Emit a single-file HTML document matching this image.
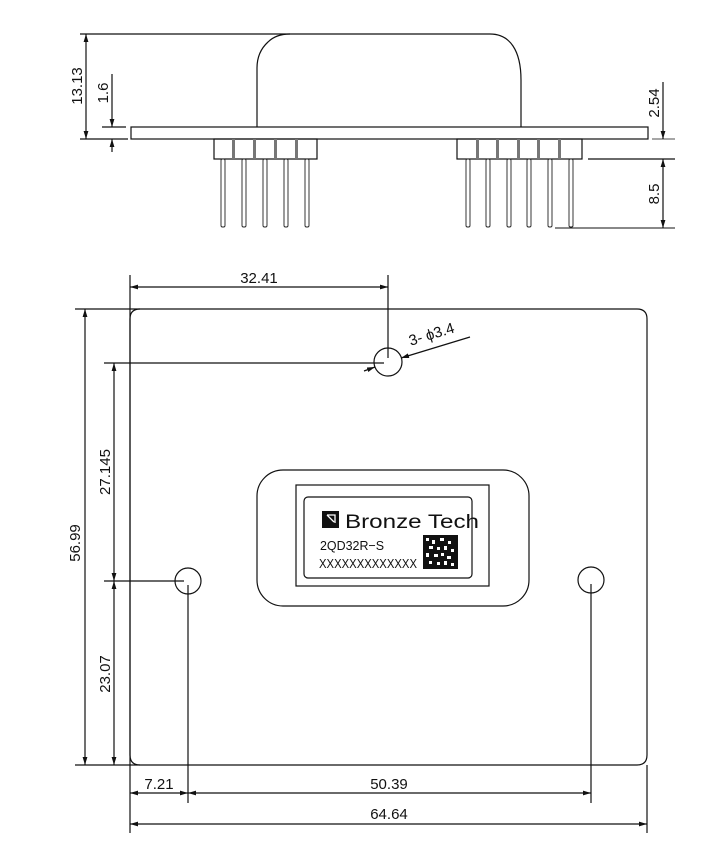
<!DOCTYPE html>
<html><head><meta charset="utf-8"><style>
html,body{margin:0;padding:0;background:#fff;}
svg{display:block;}
text{font-family:"Liberation Sans",Arial,sans-serif;fill:#111;}
</style></head><body>
<svg width="725" height="858" viewBox="0 0 725 858" xmlns="http://www.w3.org/2000/svg">
<defs>
<marker id="a" viewBox="0 0 10 6" refX="10" refY="3" markerWidth="8" markerHeight="5" orient="auto-start-reverse" markerUnits="userSpaceOnUse"><path d="M0,0 L10,3 L0,6 z" fill="#111"/></marker>
</defs>
<g stroke="#111" stroke-width="1.2" fill="none">
<!-- TOP SIDE VIEW -->
<path d="M257,127 L257,68 Q257,52 268,42 Q276,34 290,34 L490,34 Q505,34 513,46 Q521,58 521,80 L521,127"/>
<rect x="131" y="127" width="517" height="12"/>
<line x1="80" y1="34" x2="290" y2="34"/>
<line x1="80" y1="139" x2="128" y2="139"/>
<line x1="86" y1="34" x2="86" y2="139" marker-start="url(#a)" marker-end="url(#a)"/>
<line x1="102" y1="127" x2="126" y2="127"/>
<line x1="112" y1="74" x2="112" y2="127" marker-end="url(#a)"/>
<line x1="112" y1="139" x2="112" y2="152" marker-start="url(#a)"/>
<rect x="214" y="139" width="103" height="20"/>
<rect x="457" y="139" width="125" height="20"/>
<line x1="652" y1="139" x2="675" y2="139" stroke-width="0.8"/>
<line x1="588" y1="159" x2="675" y2="159"/>
<line x1="555" y1="228" x2="675" y2="228" stroke-width="0.9"/>
<line x1="663" y1="82" x2="663" y2="139" marker-end="url(#a)"/>
<line x1="663" y1="159" x2="663" y2="228" marker-start="url(#a)" marker-end="url(#a)"/>
</g>
<g fill="#fff" stroke="#222" stroke-width="0.9">
<rect x="221" y="159" width="4" height="68" rx="1.5"/>
<rect x="242" y="159" width="4" height="68" rx="1.5"/>
<rect x="263" y="159" width="4" height="68" rx="1.5"/>
<rect x="284" y="159" width="4" height="68" rx="1.5"/>
<rect x="305" y="159" width="4" height="68" rx="1.5"/>
<rect x="466" y="159" width="4" height="68" rx="1.5"/>
<rect x="486" y="159" width="4" height="68" rx="1.5"/>
<rect x="507" y="159" width="4" height="68" rx="1.5"/>
<rect x="527" y="159" width="4" height="68" rx="1.5"/>
<rect x="548" y="159" width="4" height="68" rx="1.5"/>
<rect x="569" y="159" width="4" height="68" rx="1.5"/>
</g>
<g fill="#777">
<rect x="232" y="139" width="3" height="20"/><rect x="253" y="139" width="3" height="20"/><rect x="274" y="139" width="3" height="20"/><rect x="295" y="139" width="3" height="20"/>
<rect x="476" y="139" width="3" height="20"/><rect x="496" y="139" width="3" height="20"/><rect x="517" y="139" width="3" height="20"/><rect x="537" y="139" width="3" height="20"/><rect x="558" y="139" width="3" height="20"/>
</g>
<g font-size="15">
<text transform="translate(82,86) rotate(-90)" text-anchor="middle">13.13</text>
<text transform="translate(108,93) rotate(-90)" text-anchor="middle">1.6</text>
<text transform="translate(659,103) rotate(-90)" text-anchor="middle">2.54</text>
<text transform="translate(659,194) rotate(-90)" text-anchor="middle">8.5</text>
</g>

<!-- BOTTOM VIEW -->
<g stroke="#111" stroke-width="1.2" fill="none">
<path d="M140,309 L637,309 Q647,309 647,319 L647,755 Q647,765 637,765 L140,765 Q130,765 130,755 L130,319 Q130,309 140,309 Z"/>
<line x1="75" y1="309" x2="140" y2="309"/>
<line x1="75" y1="765" x2="140" y2="765"/>
<line x1="130" y1="275" x2="130" y2="833"/>
<line x1="647" y1="765" x2="647" y2="833"/>
<circle cx="388" cy="362" r="14"/>
<circle cx="188" cy="581" r="13"/>
<circle cx="591" cy="580" r="13"/>
<line x1="388" y1="275" x2="388" y2="358"/>
<line x1="130" y1="287" x2="388" y2="287" marker-start="url(#a)" marker-end="url(#a)"/>
<line x1="104" y1="363" x2="384" y2="363"/>
<line x1="104" y1="581" x2="184" y2="581"/>
<line x1="85" y1="309" x2="85" y2="765" marker-start="url(#a)" marker-end="url(#a)"/>
<line x1="114" y1="363" x2="114" y2="581" marker-start="url(#a)" marker-end="url(#a)"/>
<line x1="114" y1="581" x2="114" y2="765" marker-start="url(#a)" marker-end="url(#a)"/>
<line x1="188" y1="585" x2="188" y2="803"/>
<line x1="591" y1="584" x2="591" y2="803"/>
<line x1="130" y1="793" x2="188" y2="793" marker-start="url(#a)" marker-end="url(#a)"/>
<line x1="188" y1="793" x2="591" y2="793" marker-start="url(#a)" marker-end="url(#a)"/>
<line x1="130" y1="824" x2="647" y2="824" marker-start="url(#a)" marker-end="url(#a)"/>
<line x1="364" y1="371" x2="375" y2="367" marker-end="url(#a)"/>
<line x1="470" y1="337" x2="401" y2="358" marker-end="url(#a)"/>
<rect x="257" y="470" width="272" height="136" rx="26"/>
<rect x="296" y="485" width="193" height="101"/>
<rect x="304" y="497" width="168" height="81" rx="4"/>
</g>
<g font-size="15">
<text x="259" y="283" text-anchor="middle">32.41</text>
<text transform="translate(433,339) rotate(-17)" text-anchor="middle">3- ϕ3.4</text>
<text transform="translate(80,543) rotate(-90)" text-anchor="middle">56.99</text>
<text transform="translate(110,472) rotate(-90)" text-anchor="middle">27.145</text>
<text transform="translate(110,674) rotate(-90)" text-anchor="middle">23.07</text>
<text x="159" y="789" text-anchor="middle">7.21</text>
<text x="389" y="789" text-anchor="middle">50.39</text>
<text x="389" y="819" text-anchor="middle">64.64</text>
</g>
<rect x="322" y="511" width="17" height="17" fill="#111"/>
<path d="M327,515 L335,515 L335,523 M327,515 L334,522" stroke="#fff" stroke-width="1.3" fill="none"/>
<text x="345" y="528" font-size="19" textLength="134" lengthAdjust="spacingAndGlyphs">Bronze Tech</text>
<text x="320" y="550" font-size="13" textLength="64" lengthAdjust="spacingAndGlyphs">2QD32R−S</text>
<text x="319" y="568" font-size="13" textLength="98" lengthAdjust="spacingAndGlyphs">XXXXXXXXXXXXX</text>
<rect x="423" y="535" width="35" height="34" fill="#111"/>
<g fill="#fff">
<rect x="426" y="538" width="3" height="3"/><rect x="432" y="540" width="3" height="4"/><rect x="440" y="538" width="4" height="3"/><rect x="448" y="541" width="3" height="3"/><rect x="429" y="546" width="4" height="3"/><rect x="437" y="547" width="3" height="3"/><rect x="444" y="546" width="3" height="4"/><rect x="451" y="549" width="3" height="3"/><rect x="426" y="553" width="3" height="4"/><rect x="434" y="554" width="4" height="3"/><rect x="441" y="553" width="3" height="3"/><rect x="447" y="556" width="4" height="3"/><rect x="429" y="561" width="3" height="3"/><rect x="437" y="562" width="3" height="3"/><rect x="444" y="561" width="3" height="4"/><rect x="451" y="563" width="3" height="3"/>
</g>
</svg>
</body></html>
